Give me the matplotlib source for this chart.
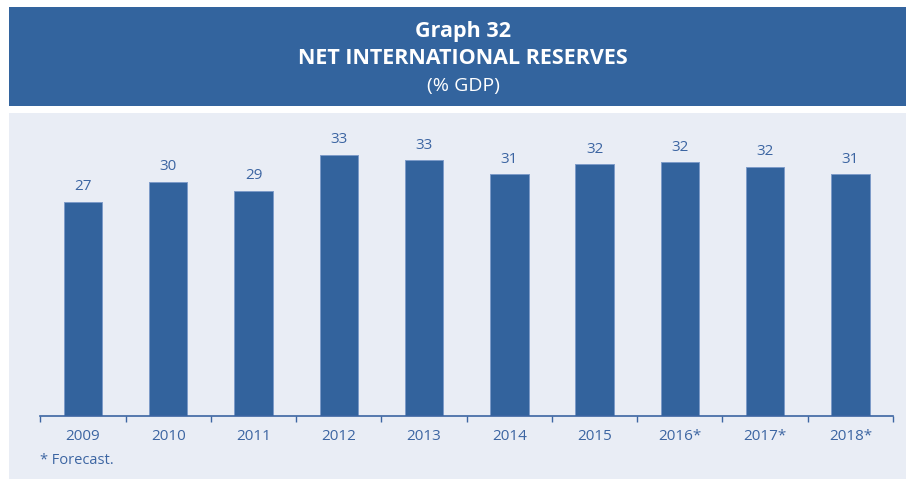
import matplotlib.pyplot as plt
from matplotlib.patches import Rectangle
import numpy as np

YEARS = ['2009', '2010', '2011', '2012', '2013', '2014', '2015', '2016*', '2017*', '2018*']
RESERVES = [27.4, 29.9, 28.8, 33.4, 32.7, 30.9, 32.2, 32.45, 31.9, 30.9]

HEADER_BLUE = '#33649e'
PANEL_BG = '#e9edf5'
TEXT_BLUE = '#3c65a2'
BAR_BLUE = '#33639d'

W, H = 906, 479


def px_box(x0, y0, x1, y1):
    # pixel box (top-left origin) -> figure fraction rect
    return (x0 / W, 1 - y1 / H, (x1 - x0) / W, (y1 - y0) / H)


def main() -> None:
    plt.rcParams['font.family'] = ['Open Sans', 'DejaVu Sans']
    fig = plt.figure(figsize=(W / 100, H / 100), dpi=100)
    fig.patch.set_facecolor('white')

    x, y, w, h = px_box(9, 7, 906, 106)
    fig.patches.append(Rectangle((x, y), w, h, transform=fig.transFigure,
                                 facecolor=HEADER_BLUE, edgecolor='none', zorder=-2))
    x, y, w, h = px_box(9, 113, 906, 479)
    fig.patches.append(Rectangle((x, y), w, h, transform=fig.transFigure,
                                 facecolor=PANEL_BG, edgecolor='none', zorder=-2))

    fig.text(0.511, 1 - 32 / H, 'Graph 32', ha='center', va='center',
             color='white', fontsize=15.5, fontweight='bold')
    fig.text(0.511, 1 - 59 / H, 'NET INTERNATIONAL RESERVES', ha='center', va='center',
             color='white', fontsize=15.5, fontweight='bold')
    fig.text(0.511, 1 - 86 / H, '(% GDP)', ha='center', va='center',
             color='white', fontsize=14)

    ax = fig.add_axes(px_box(40.4, 120, 893, 415.5))
    ax.set_zorder(2)
    ax.set_facecolor('none')

    ind = np.arange(len(YEARS))
    ax.bar(ind, RESERVES, width=0.45, color=BAR_BLUE, edgecolor='#7d9bc9', linewidth=0.7)
    for i, value in enumerate(RESERVES):
        ax.text(i, value + 1.0, f'{value:.0f}', ha='center', va='bottom',
                color=TEXT_BLUE, fontsize=11)

    ax.set_xlim(-0.5, len(YEARS) - 0.5)
    ax.set_ylim(0, 295.5 / 7.8)
    ax.set_xticks(ind)
    ax.set_xticklabels(YEARS, color=TEXT_BLUE, fontsize=11)
    ax.set_xticks(np.arange(-0.5, len(YEARS)), minor=True)
    ax.tick_params(axis='x', which='major', length=0, pad=10)
    ax.tick_params(axis='x', which='minor', length=4, width=1, color=TEXT_BLUE, direction='out')
    ax.set_yticks([])
    for side in ['top', 'right', 'left']:
        ax.spines[side].set_visible(False)
    ax.spines['bottom'].set_color(TEXT_BLUE)
    ax.spines['bottom'].set_linewidth(1.2)

    fig.text(40 / W, 1 - 461 / H, '* Forecast.', ha='left', va='center',
             color=TEXT_BLUE, fontsize=10.5)

    fig.savefig('out.png', dpi=100, facecolor=fig.get_facecolor())


if __name__ == '__main__':
    main()
